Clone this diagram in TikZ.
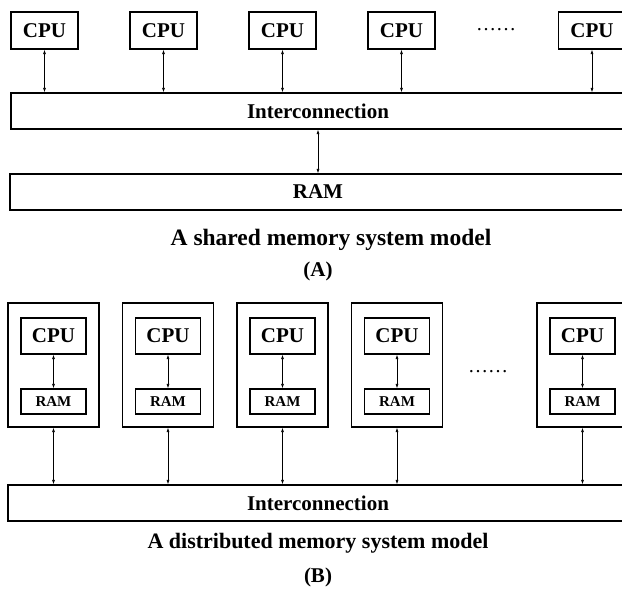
\documentclass[tikz,border=0pt]{standalone}
\usepackage{fontspec}
\setmainfont{Liberation Serif}
\usetikzlibrary{arrows.meta}
\tikzset{>={Latex[length=4.5pt,width=3pt]}}
\tikzset{
  box/.style={draw,line width=1.1pt,inner sep=0pt,
    font=\bfseries\fontsize{21}{21}\selectfont},
  cpubox/.style={box,minimum width=67pt,minimum height=37pt},
  smallcpu/.style={box,minimum width=65pt,minimum height=36pt},
  smallram/.style={box,minimum width=65pt,minimum height=25pt,
    font=\bfseries\fontsize{15}{15}\selectfont},
  widebox/.style={box,minimum height=36pt},
  outerbox/.style={draw,line width=1.1pt,minimum width=91pt,minimum height=124pt},
  link/.style={<->,line width=0.7pt},
  dots/.style={font=\fontsize{20}{20}\selectfont},
  caption/.style={font=\bfseries\fontsize{#1}{#1}\selectfont},
}

\begin{document}
\begin{tikzpicture}[x=1pt,y=-1pt]
  \clip (0,0) rectangle (622,590);

  % define to change easily
  \def\cpustep{119}

  % (A) shared memory
  \node[widebox,minimum width=614pt] (icA) at (318,111) {Interconnection};
  \node[widebox,minimum width=616pt] (ramA) at (318,192) {RAM};
  \foreach \i in {0,...,3}
    \node[cpubox] (cpu\i) at ({44.5+\cpustep*\i},30.5) {CPU};
  \node[cpubox] (cpu4) at (592,30.5) {CPU};
  \node[dots] (dotsA) at (496,30) {……};
  \foreach \i in {0,...,4}
    \draw[link] (cpu\i) -- (cpu\i |- icA.north);
  \draw[link] (icA) -- (ramA);

  % (B) distributed memory
  \node[widebox,minimum width=620pt] (icB) at (318,503) {Interconnection};
  \foreach \x [count=\i from 0] in {53.5,168,282.5,397,582.5} {
    \node[outerbox] (node\i) at (\x,365) {};
    \node[smallcpu] (ncpu\i) at (\x,336) {CPU};
    \node[smallram] (nram\i) at (\x,401.5) {RAM};
    \draw[link] (ncpu\i) -- (nram\i);
    \draw[link] (node\i) -- (node\i |- icB.north);
  }
  \node[dots] (dotsB) at (488,372) {……};

  % captions
  \node[caption=23.5] (capA) at (331,240) {A shared memory system model};
  \node[caption=21] (labA) at (318,271) {(A)};
  \node[caption=22] (capB) at (318,543) {A distributed memory system model};
  \node[caption=21] (labB) at (318,577) {(B)};

\end{tikzpicture}
\end{document}
